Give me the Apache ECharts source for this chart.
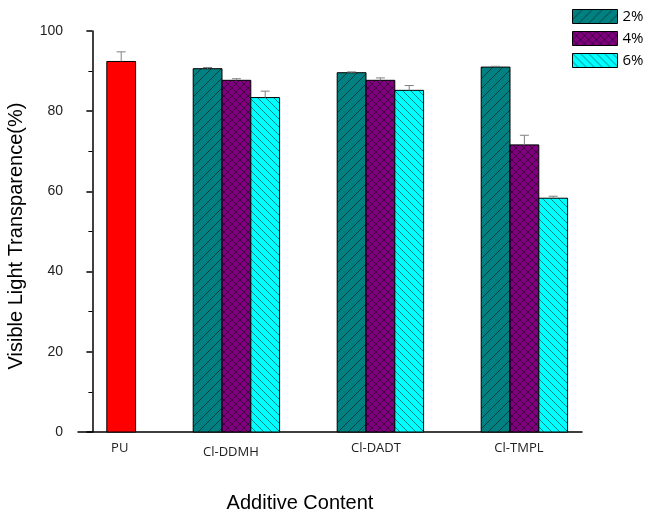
<!DOCTYPE html>
<html>
<head>
<meta charset="utf-8">
<script src="https://cdn.jsdelivr.net/npm/echarts@6/dist/echarts.min.js"></script>
<style>
html,body{margin:0;padding:0;background:#fff;}
#chart{width:648px;height:517px;}
</style>
</head>
<body>
<div id="chart"></div>
<script>
// ---- data ----
var categories = ['PU', 'Cl-DDMH', 'Cl-DADT', 'Cl-TMPL'];
var seriesNames = ['2%', '4%', '6%'];
var puValue = 92.4;
var puError = 2.4;
var values2 = [null, 90.6, 89.6, 91.0];
var values4 = [null, 87.7, 87.7, 71.6];
var values6 = [null, 83.4, 85.2, 58.3];
var errors2 = [null, 0.3, 0.2, 0.2];
var errors4 = [null, 0.4, 0.6, 2.4];
var errors6 = [null, 1.6, 1.2, 0.5];
var yTicks = [0, 20, 40, 60, 80, 100];

// ---- patterns ----
function makePattern(bg, kind) {
  var s = kind === 'fwd' ? 10 : 8;
  var c = document.createElement('canvas');
  c.width = s; c.height = s;
  var g = c.getContext('2d');
  g.fillStyle = bg; g.fillRect(0, 0, s, s);
  g.strokeStyle = 'rgba(0,0,0,0.5)';
  g.lineWidth = 1;
  function fwd() { // "/"
    g.beginPath();
    g.moveTo(-1, s + 1); g.lineTo(s + 1, -1);
    g.moveTo(-2, 2); g.lineTo(2, -2);
    g.moveTo(s - 2, s + 2); g.lineTo(s + 2, s - 2);
    g.stroke();
  }
  function back() { // "\"
    g.beginPath();
    g.moveTo(-1, -1); g.lineTo(s + 1, s + 1);
    g.moveTo(s - 2, -2); g.lineTo(s + 2, 2);
    g.moveTo(-2, s - 2); g.lineTo(2, s + 2);
    g.stroke();
  }
  if (kind === 'fwd') fwd();
  else if (kind === 'back') back();
  else { fwd(); back(); }
  return { image: c, repeat: 'repeat' };
}
var patterns = [
  makePattern('#008080', 'fwd'),
  makePattern('#800080', 'cross'),
  makePattern('#00FFFF', 'back')
];

var barW = 0.2;               // bar width in axis units
var slotOffsets = [-0.2, 0, 0.2];

function buildData(vals, errs, slot) {
  var out = [];
  for (var i = 0; i < vals.length; i++) {
    if (vals[i] == null) continue;
    out.push([i + slotOffsets[slot], vals[i], errs[i]]);
  }
  return out;
}

function barRender(fill) {
  return function (params, api) {
    var x = api.value(0), y = api.value(1), e = api.value(2);
    var p0 = api.coord([x - barW / 2, 0]);
    var p1 = api.coord([x + barW / 2, y]);
    var pe = api.coord([x, y + e]);
    var pt = api.coord([x, y]);
    var capHalf = 4.5;
    return {
      type: 'group',
      children: [
        {
          type: 'rect',
          shape: { x: p0[0], y: p1[1], width: p1[0] - p0[0], height: p0[1] - p1[1] },
          style: { fill: fill, stroke: '#000', lineWidth: 1 }
        },
        {
          type: 'line',
          shape: { x1: pt[0], y1: pt[1], x2: pe[0], y2: pe[1] },
          style: { stroke: '#808080', lineWidth: 1 }
        },
        {
          type: 'line',
          shape: { x1: pe[0] - capHalf, y1: pe[1], x2: pe[0] + capHalf, y2: pe[1] },
          style: { stroke: '#808080', lineWidth: 1 }
        }
      ]
    };
  };
}

var seriesVals = [values2, values4, values6];
var seriesErrs = [errors2, errors4, errors6];
var series = [];
for (var k = 0; k < 3; k++) {
  series.push({
    name: seriesNames[k],
    type: 'custom',
    renderItem: barRender(patterns[k]),
    itemStyle: { color: patterns[k], borderColor: '#000', borderWidth: 1 },
    encode: { x: 0, y: 1 },
    data: buildData(seriesVals[k], seriesErrs[k], k),
    silent: true
  });
}
series.push({
  name: 'PU',
  type: 'custom',
  renderItem: barRender('#FF0000'),
  encode: { x: 0, y: 1 },
  data: [[0 + slotOffsets[2], puValue, puError]],
  silent: true
});
// category labels along the x axis
var labelShift = [-0.01, -0.038, -0.031, -0.038];
var labelDy = [16, 20, 16, 16];
series.push({
  name: 'labels',
  type: 'custom',
  renderItem: function (params, api) {
    var i = params.dataIndex;
    var center = i === 0 ? i + slotOffsets[2] : i;
    var p = api.coord([center + labelShift[i], 0]);
    return {
      type: 'text',
      x: p[0], y: p[1] + labelDy[i],
      style: {
        text: categories[i],
        fill: '#222',
        font: '13px "Open Sans", "Noto Sans", sans-serif',
        align: 'center',
        verticalAlign: 'middle'
      }
    };
  },
  data: categories.map(function (c, i) { return [i, 0]; }),
  encode: { x: 0, y: 1 },
  silent: true
});

var chart = echarts.init(document.getElementById('chart'), null, { renderer: 'canvas' });
chart.setOption({
  animation: false,
  backgroundColor: '#fff',
  grid: { left: 78, right: 66, top: 31, bottom: 85, containLabel: false, outerBoundsMode: 'none' },
  legend: {
    orient: 'vertical',
    left: 572,
    top: 9,
    padding: 0,
    itemWidth: 45,
    itemHeight: 14,
    itemGap: 7,
    icon: 'rect',
    textStyle: { fontSize: 15, color: '#000', fontFamily: '"Open Sans", "Noto Sans", sans-serif' },
    data: seriesNames.map(function (n, k) {
      return { name: n, icon: 'rect', itemStyle: { color: patterns[k], borderColor: '#000', borderWidth: 1 } };
    })
  },
  xAxis: {
    type: 'value',
    min: -0.1,
    max: 3.4,
    name: 'Additive Content',
    nameLocation: 'middle',
    nameGap: 61,
    nameTextStyle: { fontSize: 20, color: '#000', fontFamily: '"Liberation Sans", Arial, sans-serif', padding: [0, 60, 0, 0] },
    axisLine: { show: true, lineStyle: { color: '#000', width: 1.5 } },
    axisTick: { show: false },
    axisLabel: { show: false },
    splitLine: { show: false }
  },
  yAxis: {
    type: 'value',
    min: 0,
    max: 100,
    interval: 20,
    name: 'Visible Light Transparence(%)',
    nameLocation: 'middle',
    nameGap: 52,
    nameTextStyle: { fontSize: 20, color: '#000', fontFamily: '"Liberation Sans", Arial, sans-serif', padding: [0, 9, 0, 0] },
    axisLine: { show: true, lineStyle: { color: '#000', width: 1.5 } },
    axisTick: { show: true, inside: false, length: 6, lineStyle: { color: '#000', width: 1.5 } },
    minorTick: { show: true, splitNumber: 2, length: 4, lineStyle: { color: '#000', width: 1 } },
    axisLabel: {
      fontSize: 14, color: '#222', margin: 15,
      fontFamily: '"Liberation Sans", Arial, sans-serif',
      formatter: function (v) { return yTicks.indexOf(v) >= 0 ? String(v) : ''; }
    },
    splitLine: { show: false }
  },
  series: series
});
</script>
</body>
</html>
